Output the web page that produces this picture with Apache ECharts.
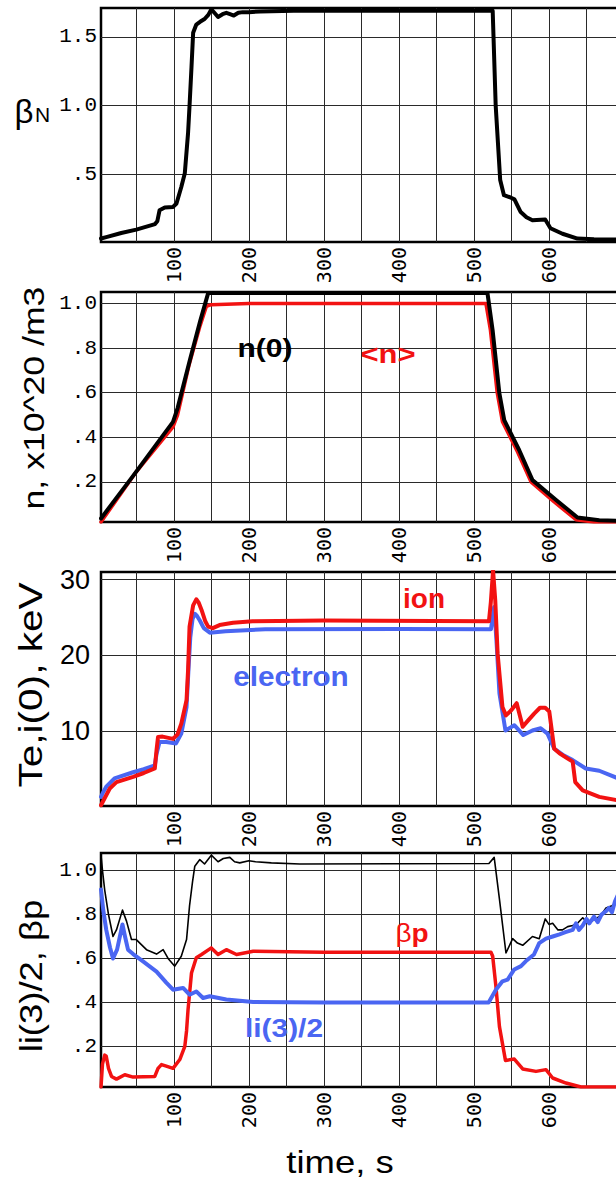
<!DOCTYPE html>
<html>
<head>
<meta charset="utf-8">
<script src="https://cdn.jsdelivr.net/npm/echarts@6/dist/echarts.min.js"></script>
<style>html,body{margin:0;padding:0;background:#fff}#c{width:616px;height:1180px}</style>
</head>
<body>
<div id="c"></div>
<script>
// ---- tick labels ----
var timeTicks = [50,100,150,200,250,300,350,400,450,500,550,600,650];
var timeLabels = [100,200,300,400,500,600];
var betaNTicks = [0.5,1.0,1.5];
var densTicks = [0.2,0.4,0.6,0.8,1.0];
var tempTicks = [10,20,30];
var liTicks = [0.2,0.4,0.6,0.8,1.0];

// ---- panel 1: beta N ----
var betaN = [[3,0.035],[10,0.045],[30,0.075],[50,0.1],[75,0.14],[78,0.16],[81,0.24],[88,0.26],[99,0.265],[103.6,0.29],[110,0.41],[114.7,0.51],[119,0.8],[121,1.0],[123.6,1.28],[125.8,1.53],[130,1.59],[135,1.61],[141,1.63],[146,1.66],[150,1.70],[155,1.67],[159,1.645],[165,1.665],[170,1.675],[175,1.665],[180,1.655],[186,1.675],[192,1.68],[200,1.68],[215,1.685],[260,1.69],[522,1.69],[525,1.69],[529,1.0],[535,0.46],[540,0.35],[548,0.335],[554,0.32],[562,0.23],[570,0.19],[578,0.168],[595,0.173],[602,0.11],[618,0.07],[638,0.035],[660,0.03],[692,0.028]];

// ---- panel 2: density ----
var nCentral = [[3,0.036],[45.8,0.227],[99,0.469],[105,0.53],[121.3,0.745],[135,0.92],[145.8,1.047],[150,1.048],[518,1.048],[524.9,0.88],[533.8,0.6],[540.4,0.477],[560.4,0.342],[578,0.208],[609.5,0.119],[638,0.04],[667,0.028],[692,0.025]];
var nAverage = [[3,0.02],[50,0.245],[99,0.447],[105,0.5],[120,0.72],[135,0.9],[143.5,0.988],[150,0.995],[200,1.0],[516,1.0],[522,0.88],[531,0.6],[538,0.47],[558,0.335],[576,0.2],[607,0.11],[636,0.03],[660,0.02],[692,0.02]];

// ---- panel 3: temperatures ----
var tIon = [[3,0.25],[8,1.2],[14.7,2.45],[23.6,3.3],[45.8,4.0],[60,4.5],[74.7,5.1],[77,7.5],[79,9.25],[85,9.3],[99,9.0],[105,9.6],[110,11],[117,14.1],[119,18],[121,23.8],[125.8,26.6],[130,27.4],[133,27.0],[137,26],[142,24.5],[145.8,23.8],[152,23.6],[161,24.0],[179,24.3],[205,24.5],[300,24.6],[520,24.5],[522.5,27],[525.5,31.2],[528.4,27.3],[531.6,20.2],[538,13.2],[542.7,12.1],[550,12.8],[557,13.7],[565,10.6],[572,11.4],[580,12.3],[588,13.1],[595,13.1],[600.4,12.6],[607,7.7],[614,7.1],[625,6.4],[631.6,6.0],[635,3.3],[645,2.2],[667,1.35],[692,0.9]];
var tElectron = [[3,1.35],[6,2.0],[10,2.7],[21,3.8],[45.8,4.6],[60,5.0],[74.7,5.5],[77,7],[81,8.6],[90,8.6],[103,8.4],[110,9.7],[117,13.2],[119.5,18],[122,22.4],[125,24.8],[128,25.5],[131,25.2],[134.7,24.6],[140,23.6],[148,23.0],[169,23.2],[222,23.45],[400,23.5],[522.7,23.45],[527,26.4],[530,22],[534,15],[542,10.1],[553.8,10.8],[565.8,9.5],[578,10.1],[589,10.4],[598,9.7],[607,7.7],[620,6.8],[631.6,6.2],[649,5.1],[667,4.8],[692,3.8]];

// ---- panel 4: li(3)/2, beta p ----
var liPlusBp = [[3,1.07],[5,1.0],[8,0.91],[13,0.8],[19,0.70],[23.6,0.73],[31.6,0.82],[37,0.77],[43.6,0.686],[50,0.686],[63.6,0.64],[77,0.62],[85.8,0.64],[92.4,0.60],[101.3,0.565],[110,0.61],[117,0.686],[121,0.84],[125,0.95],[128,1.02],[134.7,1.05],[141,1.03],[150,1.07],[159,1.04],[166,1.055],[174.7,1.06],[181,1.04],[188,1.035],[200,1.045],[209,1.04],[230,1.035],[268,1.03],[520,1.032],[527,1.06],[534,0.87],[542.7,0.625],[551.6,0.69],[558,0.67],[565,0.66],[578,0.70],[587,0.69],[595,0.78],[600,0.755],[604.9,0.76],[612,0.73],[618,0.73],[625,0.745],[631.6,0.75],[638,0.76],[645,0.785],[652,0.76],[662.7,0.78],[670,0.8],[676,0.83],[684,0.84],[692,0.86]];
var li32 = [[3,0.914],[6,0.82],[10,0.73],[15,0.65],[19,0.60],[24.4,0.64],[31.6,0.755],[35,0.70],[39,0.64],[45.8,0.62],[59,0.587],[77,0.54],[90,0.49],[99,0.458],[112.4,0.466],[121,0.435],[130,0.45],[139,0.42],[148,0.428],[170,0.413],[205.8,0.402],[300,0.40],[519.6,0.40],[529.3,0.458],[538,0.496],[544.9,0.504],[553.8,0.55],[562.7,0.565],[569,0.587],[580,0.618],[587,0.67],[596,0.69],[605,0.70],[614,0.71],[622,0.72],[631.6,0.73],[636,0.76],[640,0.73],[645,0.75],[650,0.78],[653.8,0.76],[660,0.79],[665,0.765],[670,0.80],[676,0.815],[680,0.83],[684,0.81],[688,0.86],[692,0.89]];
var betaP = [[3,0.015],[5,0.12],[8,0.16],[10,0.155],[13,0.1],[17,0.063],[23.6,0.051],[34.7,0.071],[45.8,0.06],[74.7,0.063],[79,0.1],[83.6,0.117],[90,0.11],[99,0.10],[108,0.14],[114.7,0.2],[117,0.27],[119,0.367],[123.6,0.534],[130,0.603],[137,0.618],[150,0.648],[159,0.618],[170,0.64],[183.6,0.618],[205.8,0.633],[300,0.628],[522.7,0.628],[525,0.61],[529.3,0.473],[534,0.29],[542,0.136],[553.8,0.142],[565,0.097],[582.7,0.086],[596,0.094],[604.9,0.056],[622.7,0.033],[642.7,0.015],[692,0.015]];

var RED = '#f21212', BLUE = '#4a66f2';
var MONO = 'Liberation Mono', SANS = 'Liberation Sans', XMONO = 'DejaVu Sans Mono';

var panels = [{top:8,height:234},{top:292,height:230},{top:572,height:234},{top:853,height:234}];
var yRanges = [[0.01,1.71],[0.02,1.052],[0.15,31.0],[0.015,1.08]];
var yTicks = [betaNTicks,densTicks,tempTicks,liTicks];

function fmtDec(v){ return v.toFixed(1).replace(/^0/,''); }

var grids = panels.map(function(p){
  return {left:101,right:-2,top:p.top,height:p.height,show:true,borderColor:'#000',borderWidth:2.5,backgroundColor:'#fff',outerBoundsMode:'none',containLabel:false};
});
var xAxes = panels.map(function(p,i){
  return {type:'value',gridIndex:i,min:3,max:692,
    axisLine:{show:false},
    axisTick:{show:false,customValues:timeTicks},
    splitLine:{show:true,lineStyle:{color:'#2a2a2a',width:1}},
    axisLabel:{customValues:timeLabels,rotate:90,margin:5,fontFamily:XMONO,fontSize:20,color:'#000'}};
});
var yAxes = panels.map(function(p,i){
  var isT = (i===2);
  return {type:'value',gridIndex:i,min:yRanges[i][0],max:yRanges[i][1],
    axisLine:{show:false},
    axisTick:{show:false,customValues:yTicks[i]},
    splitLine:{show:true,lineStyle:{color:'#2a2a2a',width:1}},
    axisLabel:{customValues:yTicks[i],margin:isT?11:4,
      fontFamily:isT?SANS:MONO,fontSize:isT?27:21,color:'#000',
      formatter:isT?function(v){return String(Math.round(v));}:fmtDec}};
});

function line(data,i,color,w,z){
  return {type:'line',xAxisIndex:i,yAxisIndex:i,data:data,showSymbol:false,symbol:'none',
    lineStyle:{color:color,width:w,join:'round',cap:'round'},z:z||2,animation:false};
}

function txt(str,x,y,opts){
  opts = opts||{};
  return {type:'text',x:x,y:y,rotation:opts.rot||0,scaleX:opts.sx||1,scaleY:1,z:100,
    style:{text:str,font:opts.font,fill:opts.fill||'#000',align:'center',verticalAlign:'middle',rich:opts.rich}};
}

var option = {
  animation:false,
  backgroundColor:'#fff',
  grid:grids, xAxis:xAxes, yAxis:yAxes,
  series:[
    line(betaN,0,'#000',4),
    line(nAverage,1,RED,3.5,2),
    line(nCentral,1,'#000',4,3),
    line(tElectron,2,BLUE,4,2),
    line(tIon,2,RED,4,3),
    line(liPlusBp,3,'#000',1.6,2),
    line(betaP,3,RED,3.5,3),
    line(li32,3,BLUE,4,4)
  ],
  graphic:[
    txt('β',24,111,{font:'33px '+SANS}),
    txt('N',42.5,114.5,{font:'21px '+SANS}),
    txt('n, x10^20 /m3',34,398,{font:'29px '+SANS,rot:Math.PI/2,sx:1.23}),
    txt('Te,i(0), keV',30.5,685,{font:'33px '+SANS,rot:Math.PI/2,sx:1.23}),
    txt('li(3)/2, βp',31,976,{font:'32px '+SANS,rot:Math.PI/2,sx:1.14}),
    txt('time, s',340,1162,{font:'32px '+SANS,sx:1.14}),
    txt('n(0)',265,348,{font:'bold 25px '+SANS,sx:1.2}),
    txt('<n>',388,355,{font:'bold 25px '+SANS,fill:RED,sx:1.24}),
    txt('ion',424,598,{font:'bold 28px '+SANS,fill:RED}),
    txt('electron',291,676,{font:'bold 27px '+SANS,fill:BLUE,sx:1.1}),
    txt('li(3)/2',284,1028,{font:'bold 26px '+SANS,fill:BLUE,sx:1.15}),
    txt('{a|β}{b|p}',412,934,{fill:RED,sx:1.12,rich:{a:{font:'25px '+SANS,fill:RED},b:{font:'bold 25px '+SANS,fill:RED}}})
  ]
};

var chart = echarts.init(document.getElementById('c'),null,{renderer:'svg'});
chart.setOption(option);
</script>
</body>
</html>
